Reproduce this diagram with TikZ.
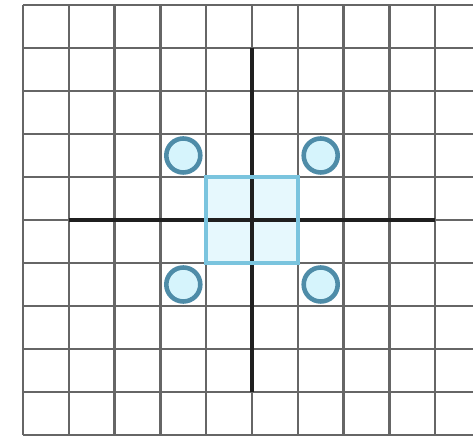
\documentclass[tikz,border=0pt]{standalone}
\usepackage{tikz}

\definecolor{holeline}{RGB}{78,140,168}
\definecolor{holefill}{RGB}{214,244,252}
\definecolor{sqline}{RGB}{122,196,222}
\definecolor{sqfill}{RGB}{230,248,253}

\begin{document}
\begin{tikzpicture}[x=0.916cm, y=0.86cm]
    \tikzstyle{gridline}=[draw=black!60, line width=1.3pt]
    \tikzstyle{axisline}=[draw=black!88, line width=1.8pt]
    \tikzstyle{shapeline}=[draw=sqline, line width=2pt]
    \tikzstyle{hole}=[circle, draw=holeline, line width=2.6pt, fill=holefill, minimum size=0.68cm, inner sep=0pt]

    \useasboundingbox[fill=white] (-5.502,-5.093) rectangle (4.825,5.116);

    % light square behind the grid
    \fill[sqfill] (-1,-1) rectangle (1,1);

    % grid
    \foreach \y in {-5,...,5}
      \draw[gridline] (-5,\y) -- (4.9,\y);
    \foreach \x in {-5,...,4}
      \draw[gridline] (\x,-5) -- (\x,5);

    % axes
    \coordinate (xl) at (-4,0);
    \coordinate (xr) at (4,0);
    \coordinate (yb) at (0,-4);
    \coordinate (yt) at (0,4);
    \draw[axisline] (xl) -- (xr);
    \draw[axisline] (yb) -- (yt);

    % square
    \draw[shapeline] (-1,-1) rectangle (1,1);

    % holes
    \node[hole] (c1) at (-1.5,1.5) {};
    \node[hole] (c2) at (1.5,1.5) {};
    \node[hole] (c3) at (-1.5,-1.5) {};
    \node[hole] (c4) at (1.5,-1.5) {};
  \end{tikzpicture}
\end{document}
